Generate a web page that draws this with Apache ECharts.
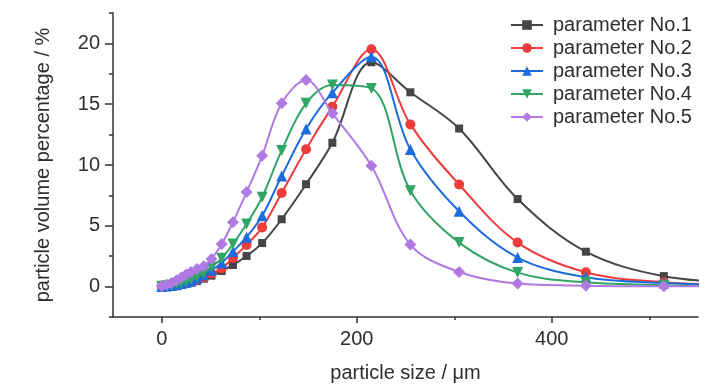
<!DOCTYPE html>
<html>
<head>
<meta charset="utf-8">
<script src="https://cdn.jsdelivr.net/npm/echarts@6/dist/echarts.min.js"></script>
<style>html,body{margin:0;padding:0;background:#fff}#c{width:728px;height:390px}</style>
</head>
<body>
<div id="c"></div>
<script>
// particle size (µm), shared by all series
var sizes = [0, 5, 10, 15, 20, 25, 30, 36, 43, 51, 61.5, 73, 87, 103, 123, 148, 175, 215, 255, 305, 365, 435, 515, 610];
var seriesNames = ['parameter No.1', 'parameter No.2', 'parameter No.3', 'parameter No.4', 'parameter No.5'];
var p1 = [0, 0.03, 0.06, 0.1, 0.15, 0.22, 0.32, 0.45, 0.65, 0.9, 1.28, 1.78, 2.52, 3.58, 5.54, 8.42, 11.83, 18.45, 15.98, 13.0, 7.2, 2.87, 0.86, 0.25];
var p2 = [0, 0.04, 0.08, 0.13, 0.2, 0.28, 0.4, 0.55, 0.75, 1.07, 1.5, 2.36, 3.43, 4.87, 7.7, 11.3, 14.8, 19.52, 13.34, 8.4, 3.62, 1.18, 0.36, 0.1];
var p3 = [0, 0.05, 0.1, 0.16, 0.25, 0.35, 0.48, 0.68, 0.95, 1.35, 1.95, 2.88, 4.06, 5.82, 9.09, 12.96, 15.95, 18.9, 11.28, 6.2, 2.39, 0.77, 0.3, 0.08];
var p4 = [0.02, 0.06, 0.12, 0.2, 0.3, 0.42, 0.58, 0.8, 1.1, 1.6, 2.33, 3.51, 5.15, 7.35, 11.2, 15.07, 16.58, 16.3, 7.88, 3.62, 1.15, 0.35, 0.12, 0.03];
var p5 = [0.05, 0.15, 0.3, 0.5, 0.75, 1.0, 1.2, 1.45, 1.67, 2.28, 3.5, 5.3, 7.77, 10.76, 15.07, 17.0, 14.25, 9.94, 3.46, 1.2, 0.25, 0.08, 0.03, 0.01];
var xMajorTicks = [0, 200, 400];
var xMinorTicks = [100, 300, 500];
var yMajorTicks = [0, 5, 10, 15, 20];
var yMinorTicks = [-2.5, 2.5, 7.5, 12.5, 17.5, 22.5];

var values = [p1, p2, p3, p4, p5];
var colors = ['#454545', '#ee3b3b', '#1e6be0', '#30a565', '#b07ae2'];
var symbols = ['rect', 'circle', 'triangle', 'triangle', 'diamond'];
var symbolSizes = [8, 10, 11, 11, 12];
var rotates = [0, 0, 0, 180, 0];

var font = '"Liberation Sans", Arial, sans-serif';
var textColor = '#2e2e2e';
var axisColor = '#333';

function pairs(v) { return sizes.map(function (s, i) { return [s, v[i]]; }); }

var series = values.map(function (v, i) {
  return {
    name: seriesNames[i], type: 'line', data: pairs(v), smooth: 0.35,
    xAxisIndex: 0, yAxisIndex: 0,
    symbol: symbols[i], symbolSize: symbolSizes[i], symbolRotate: rotates[i],
    showSymbol: true, showAllSymbol: true, clip: true,
    lineStyle: { color: colors[i], width: 2 },
    itemStyle: { color: colors[i] },
    emphasis: { disabled: true }, animation: false, z: 2 + i
  };
});

var chart = echarts.init(document.getElementById('c'), null, { renderer: 'canvas' });
chart.setOption({
  animation: false,
  grid: { left: 113, right: 30, top: 13, bottom: 73 },
  legend: {
    orient: 'vertical', left: 505, top: 10, itemWidth: 32, itemHeight: 12, itemGap: 3,
    data: seriesNames,
    textStyle: { fontFamily: font, fontSize: 20, color: textColor, padding: [0, 0, 0, 5] }
  },
  xAxis: [{
    type: 'value', min: -50, max: 550, position: 'bottom',
    name: 'particle size / μm', nameLocation: 'middle', nameGap: 46,
    nameTextStyle: { fontFamily: font, fontSize: 20, color: textColor },
    axisLine: { onZero: false, lineStyle: { color: axisColor, width: 1.5 } },
    axisTick: { show: true, customValues: xMajorTicks, length: 6, lineStyle: { color: axisColor, width: 1.5 } },
    axisLabel: { customValues: xMajorTicks, margin: 12, fontFamily: font, fontSize: 20, color: textColor },
    splitLine: { show: false }
  }, {
    type: 'value', min: -50, max: 550, position: 'bottom', offset: 0,
    axisLine: { show: false, onZero: false },
    axisTick: { show: true, customValues: xMinorTicks, length: 3, lineStyle: { color: axisColor, width: 1.5 } },
    axisLabel: { show: false }, splitLine: { show: false }
  }],
  yAxis: [{
    type: 'value', min: -2.5, max: 22.5, position: 'left',
    name: 'particle volume percentage / %', nameLocation: 'middle', nameGap: 60,
    nameTextStyle: { fontFamily: font, fontSize: 20, color: textColor },
    axisLine: { show: true, onZero: false, lineStyle: { color: axisColor, width: 1.5 } },
    axisTick: { show: true, customValues: yMajorTicks, length: 8, lineStyle: { color: axisColor, width: 1.5 } },
    axisLabel: { customValues: yMajorTicks, margin: 13, fontFamily: font, fontSize: 20, color: textColor },
    splitLine: { show: false }
  }, {
    type: 'value', min: -2.5, max: 22.5, position: 'left', offset: 0,
    axisLine: { show: false, onZero: false },
    axisTick: { show: true, customValues: yMinorTicks, length: 4, lineStyle: { color: axisColor, width: 1.5 } },
    axisLabel: { show: false }, splitLine: { show: false }
  }],
  series: series
});
</script>
</body>
</html>
